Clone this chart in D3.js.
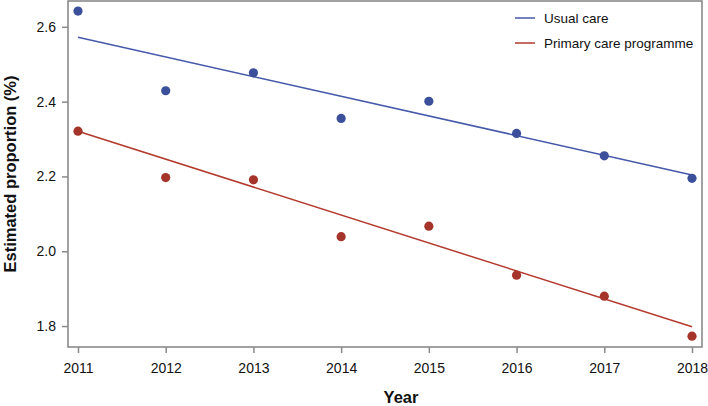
<!DOCTYPE html>
<html><head><meta charset="utf-8">
<script src="https://cdn.jsdelivr.net/npm/d3@7"></script>
<style>
html,body{margin:0;padding:0;background:#fff;}
svg{display:block;font-family:"Liberation Sans",Arial,sans-serif;}
</style></head>
<body><svg id="c" width="708" height="406"></svg>
<script>
const years = [2011, 2012, 2013, 2014, 2015, 2016, 2017, 2018];
const usualCare = [2.642, 2.429, 2.477, 2.355, 2.401, 2.315, 2.255, 2.195];
const primaryCare = [2.321, 2.197, 2.191, 2.039, 2.067, 1.936, 1.880, 1.773];
const fitYears = [2011, 2018];
const usualFit = [2.572, 2.204];
const primaryFit = [2.321, 1.798];
const yTicks = [1.8, 2.0, 2.2, 2.4, 2.6];
const seriesNames = ["Usual care", "Primary care programme"];

const svg = d3.select("#c");
const L = 68, R = 702, T = 1, B = 347;
const x = d3.scaleLinear().domain([2010.886, 2018.114]).range([L, R]);
const y = d3.scaleLinear().domain([1.744, 2.669]).range([B, T]);

const frameCol = "#8a8a8a";
const series = [
  {name: seriesNames[0], vals: usualCare, fit: usualFit, pt: "#3b4f9b", ln: "#4558aa"},
  {name: seriesNames[1], vals: primaryCare, fit: primaryFit, pt: "#a5352b", ln: "#b33a2d"}
];

// axes
const xAxis = svg.append("g").attr("transform", `translate(0,${B})`)
  .call(d3.axisBottom(x).tickValues(years).tickFormat(d3.format("d")).tickSize(6).tickPadding(10));
const yAxis = svg.append("g").attr("transform", `translate(${L},0)`)
  .call(d3.axisLeft(y).tickValues(yTicks).tickFormat(d3.format(".1f")).tickSize(6).tickPadding(6));
[xAxis, yAxis].forEach(a => {
  a.select(".domain").remove();
  a.selectAll(".tick line").attr("stroke", frameCol).attr("stroke-width", 1.5);
  a.selectAll(".tick text").attr("fill", "#111").style("font-size", "14px").style("font-family", "Liberation Sans, Arial, sans-serif");
});

// frame
svg.append("rect").attr("x", L).attr("y", T).attr("width", R - L).attr("height", B - T)
  .attr("fill", "none").attr("stroke", frameCol).attr("stroke-width", 1.6);

// fit lines
series.forEach(s => {
  svg.append("line")
    .attr("x1", x(fitYears[0])).attr("y1", y(s.fit[0]))
    .attr("x2", x(fitYears[1])).attr("y2", y(s.fit[1]))
    .attr("stroke", s.ln).attr("stroke-width", 1.5);
});
// points
series.forEach(s => {
  svg.append("g").selectAll("circle").data(s.vals).join("circle")
    .attr("cx", (d, i) => x(years[i])).attr("cy", d => y(d)).attr("r", 4.6)
    .attr("fill", s.pt);
});

// legend
series.forEach((s, i) => {
  const ly = 18 + i * 25;
  svg.append("line").attr("x1", 515).attr("x2", 535).attr("y1", ly).attr("y2", ly)
    .attr("stroke", s.ln).attr("stroke-width", 1.5);
  svg.append("text").attr("x", 544).attr("y", ly).attr("dy", "0.35em")
    .style("font-size", "13.5px").attr("fill", "#111").text(s.name);
});

// axis titles
svg.append("text").attr("x", 401).attr("y", 403).attr("text-anchor", "middle")
  .style("font-size", "16.5px").style("font-weight", "bold").attr("fill", "#111").text("Year");
svg.append("text").attr("transform", `translate(16,${(T + B) / 2}) rotate(-90)`)
  .attr("text-anchor", "middle").style("font-size", "16.5px").style("font-weight", "bold")
  .attr("fill", "#111").text("Estimated proportion (%)");
</script></body></html>
